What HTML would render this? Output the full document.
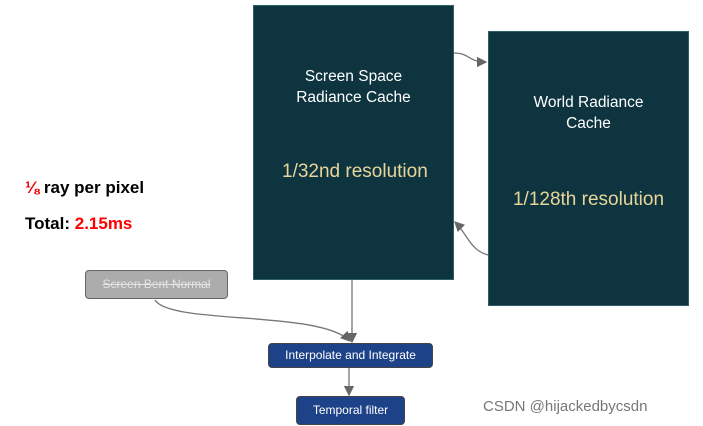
<!DOCTYPE html>
<html><head><style>
body{margin:0;width:703px;height:426px;background:#fff;position:relative;overflow:hidden;font-family:"Liberation Sans",sans-serif}
.a{position:absolute}
.box{background:#0e343f;color:#fff;text-align:center;box-sizing:border-box;border:1px solid #2d5f6a}
.n{position:absolute;box-sizing:border-box;border-radius:4px;text-align:center;font-size:12px;border:1.5px solid #444}
</style></head><body>
<div class="a" style="left:25px;top:178px;font-size:17px;font-weight:bold;color:#000"><span style="color:#e00">⅛</span> ray per pixel</div>
<div class="a" style="left:25px;top:214px;font-size:17px;font-weight:bold;color:#000">Total: <span style="color:#f00">2.15ms</span></div>

<div class="a box" style="left:253px;top:5px;width:201px;height:275px">
<div style="position:absolute;top:60px;width:100%;font-size:15.5px;line-height:21px">Screen Space<br>Radiance Cache</div>
<div style="position:absolute;top:155px;left:28px;font-size:19px;color:#e8d59a">1/32nd resolution</div>
</div>
<div class="a box" style="left:488px;top:31px;width:201px;height:275px">
<div style="position:absolute;top:60px;width:100%;font-size:15.5px;line-height:21px">World Radiance<br>Cache</div>
<div style="position:absolute;top:157px;width:100%;font-size:19px;color:#e8d59a">1/128th resolution</div>
</div>

<div class="n" style="left:85px;top:270px;width:143px;height:29px;background:#acacac;color:#e4e4e4;line-height:26px;text-decoration:line-through;border-color:#666">Screen Bent Normal</div>
<div class="n" style="left:268px;top:343px;width:165px;height:25px;background:#1d4287;color:#fff;line-height:22px">Interpolate and Integrate</div>
<div class="n" style="left:296px;top:396px;width:109px;height:29px;background:#1d4287;color:#fff;line-height:26px">Temporal filter</div>

<svg class="a" style="left:0;top:0" width="703" height="426">
<defs><marker id="m" markerWidth="8" markerHeight="8" refX="7" refY="4" orient="auto"><path d="M0,0L8,4L0,8z" fill="#666"/></marker></defs>
<g fill="none" stroke="#777" stroke-width="1.3">
<path d="M454,53 C470,53 468,62 486,62" marker-end="url(#m)"/>
<path d="M488,255 C470,250 468,235 455,222" marker-end="url(#m)"/>
<path d="M352,280 L352,342" marker-end="url(#m)"/>
<path d="M155,300 C170,325 320,310 350,341" marker-end="url(#m)"/>
<path d="M349,368 L349,395" marker-end="url(#m)"/>
</g></svg>
<div class="a" style="left:483px;top:398px;font-size:15px;color:#777">CSDN @hijackedbycsdn</div>
</body></html>
